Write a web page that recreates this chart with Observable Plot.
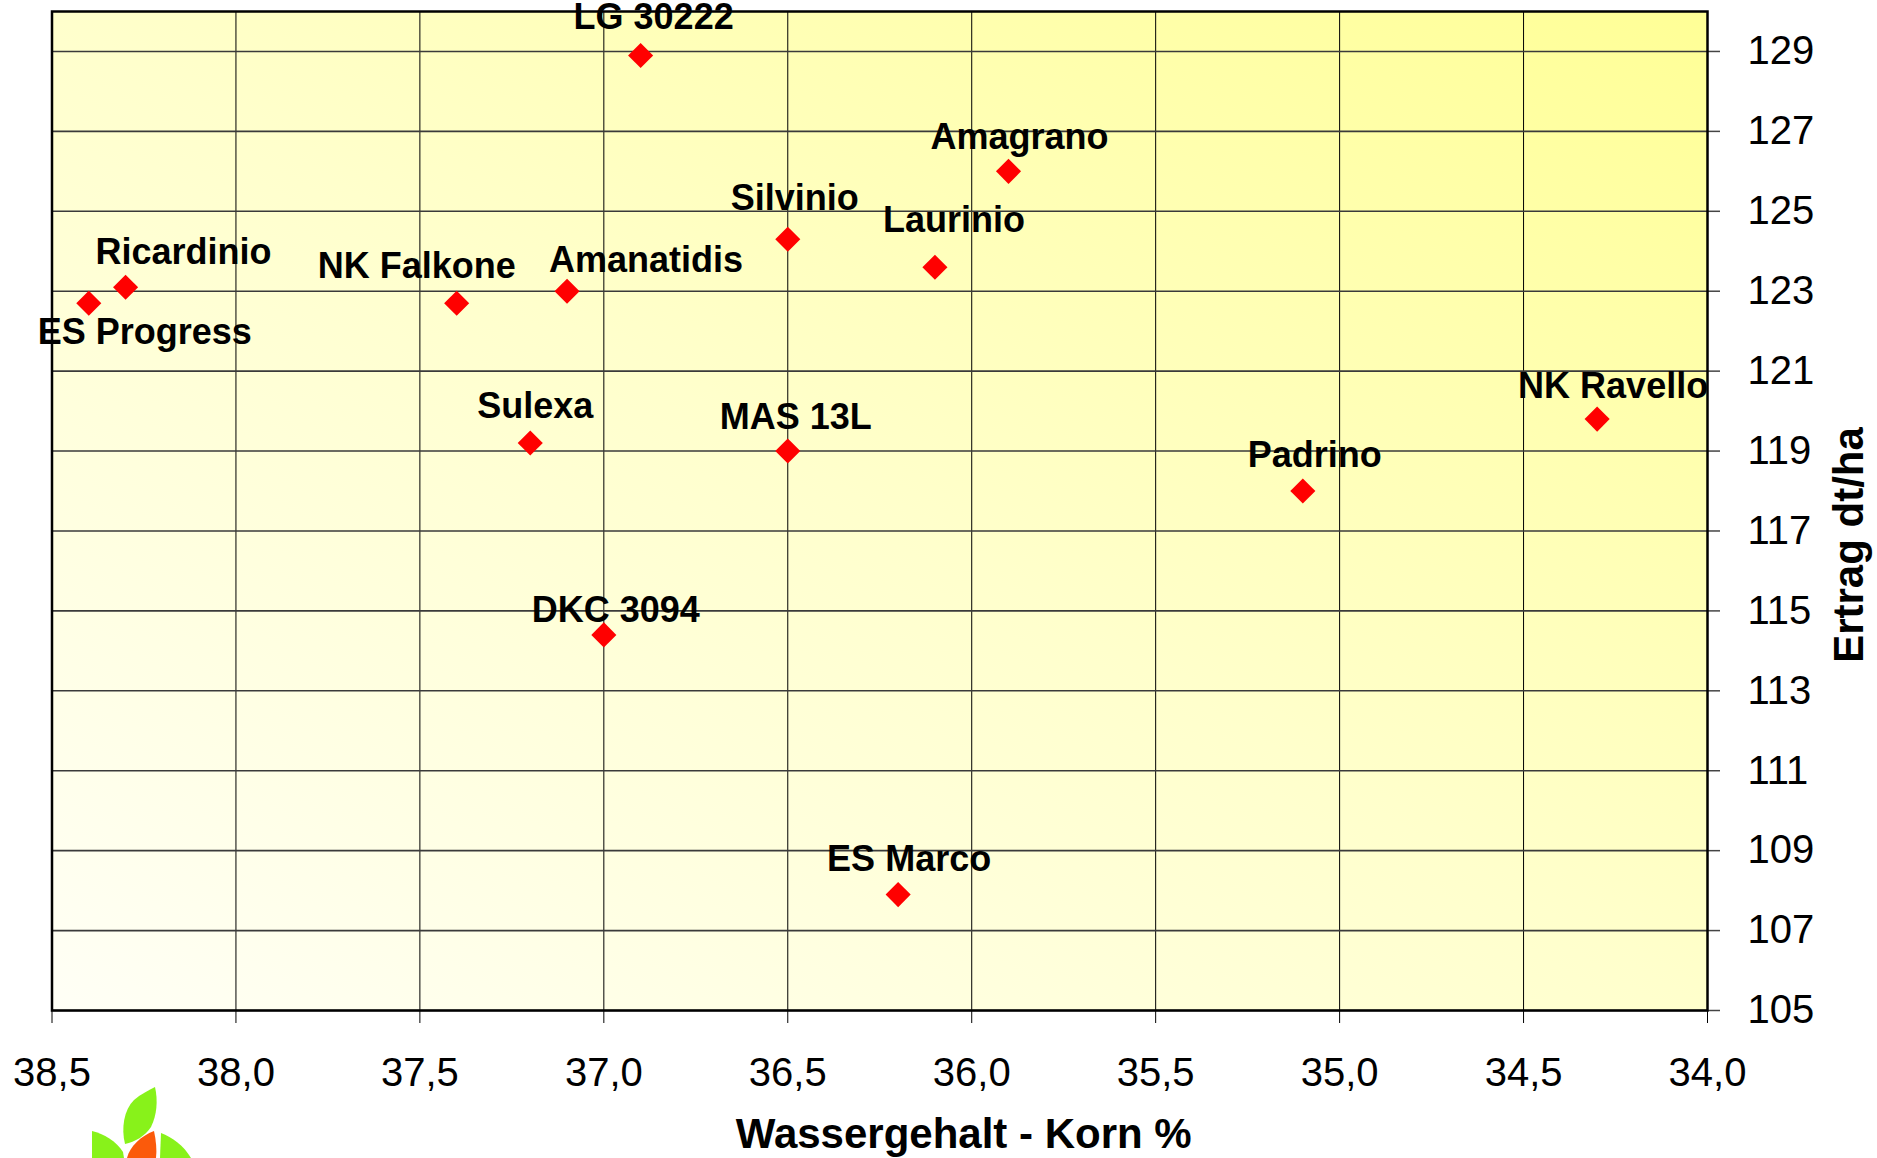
<!DOCTYPE html>
<html>
<head>
<meta charset="utf-8">
<script src="https://cdn.jsdelivr.net/npm/d3@7"></script>
<script src="https://cdn.jsdelivr.net/npm/@observablehq/plot@0.6"></script>
<style>
  html, body { margin: 0; padding: 0; background: #ffffff; }
  #wrap { position: relative; width: 1877px; height: 1158px; overflow: hidden; }
  #logo { position: absolute; left: 0; top: 0; }
</style>
</head>
<body>
<svg width="0" height="0" style="position:absolute">
  <defs>
    <linearGradient id="bggrad" x1="0" y1="1" x2="1" y2="0">
      <stop offset="0%" stop-color="#fffff6"/>
      <stop offset="50%" stop-color="#ffffcc"/>
      <stop offset="100%" stop-color="#ffff96"/>
    </linearGradient>
  </defs>
</svg>
<div id="wrap"></div>
<script>
// ---- data ----
const varieties = ["ES Progress", "Ricardinio", "NK Falkone", "Amanatidis", "LG 30222", "Silvinio", "Laurinio", "Amagrano", "Sulexa", "MAS 13L", "DKC 3094", "ES Marco", "Padrino", "NK Ravello"];
const moisture  = [38.4, 38.3, 37.4, 37.1, 36.9, 36.5, 36.1, 35.9, 37.2, 36.5, 37.0, 36.2, 35.1, 34.3];
const yieldDtHa = [122.7, 123.1, 122.7, 123.0, 128.9, 124.3, 123.6, 126.0, 119.2, 119.0, 114.4, 107.9, 118.0, 119.8];
const xTicks = [38.5, 38.0, 37.5, 37.0, 36.5, 36.0, 35.5, 35.0, 34.5, 34.0];
const yTicks = [105, 107, 109, 111, 113, 115, 117, 119, 121, 123, 125, 127, 129];
const xTitle = "Wassergehalt - Korn %";
const yTitle = "Ertrag dt/ha";

// ---- layout (label offsets in pixels, not data) ----
const labelOffset = {
  "ES Progress": [56, 29], "Ricardinio": [58, -35], "NK Falkone": [-40, -37],
  "Amanatidis": [79, -31], "LG 30222": [13, -38], "Silvinio": [7, -41],
  "Laurinio": [19, -47], "Amagrano": [11, -34], "Sulexa": [5, -37],
  "MAS 13L": [8, -34], "DKC 3094": [12, -24], "ES Marco": [11, -35],
  "Padrino": [12, -36], "NK Ravello": [16, -33]
};

const rows = varieties.map((name, i) => ({name, x: moisture[i], y: yieldDtHa[i]}));
const fmt = d => d3.format(".1f")(d).replace(".", ",");
const font = "'Liberation Sans', Arial, Helvetica, sans-serif";

const labelMarks = rows.map(r => Plot.text([r], {
  x: "x", y: "y", text: "name",
  dx: labelOffset[r.name][0], dy: labelOffset[r.name][1],
  fontSize: 36, fontWeight: "bold", fill: "black", textAnchor: "middle", lineAnchor: "middle"
}));

const chart = Plot.plot({
  width: 1877,
  height: 1158,
  marginLeft: 51.5,
  marginTop: 11,
  marginRight: 170,
  marginBottom: 148,
  style: {fontFamily: font, fontSize: "40px", background: "white", overflow: "visible", color: "black"},
  x: {domain: [34, 38.5], reverse: true},
  y: {domain: [105, 130]},
  marks: [
    Plot.frame({fill: "url(#bggrad)", stroke: "none"}),
    Plot.gridX(xTicks, {stroke: "black", strokeOpacity: 1, strokeWidth: 1}),
    Plot.gridY(yTicks, {stroke: "#3a3a3a", strokeOpacity: 1, strokeWidth: 1.6}),
    Plot.axisX(xTicks, {anchor: "bottom", tickSize: 13, tickPadding: 34, tickFormat: fmt, fontSize: 40, stroke: "black", strokeWidth: 1, label: null}),
    Plot.axisY(yTicks, {anchor: "right", tickSize: 12, tickPadding: 28, fontSize: 40, stroke: "#444", strokeWidth: 1.5, label: null}),
    Plot.frame({stroke: "black", strokeWidth: 2.5}),
    Plot.dot(rows, {x: "x", y: "y", symbol: "diamond2", r: 11.3, fill: "#ff0000", stroke: "none"}),
    ...labelMarks,
    Plot.text([xTitle], {frameAnchor: "bottom", text: d => d, dx: 84, dy: 124, fontSize: 42, fontWeight: "bold", fill: "black", textAnchor: "middle", lineAnchor: "middle"}),
    Plot.text([yTitle], {frameAnchor: "right", text: d => d, dx: 142, dy: 34, rotate: -90, fontSize: 42, fontWeight: "bold", fill: "black", textAnchor: "middle", lineAnchor: "middle"})
  ]
});

const wrap = document.getElementById("wrap");
wrap.appendChild(chart);

// decorative logo fragment at the lower left (not data)
wrap.insertAdjacentHTML("beforeend", `
<svg id="logo" width="1877" height="1158" viewBox="0 0 1877 1158">
  <path d="M125,1144 C121,1128 124,1110 134,1100 C141,1094 149,1090 155,1087 C158,1100 157,1115 151,1127 C145,1136 135,1142 125,1144 Z" fill="#88f21a"/>
  <path d="M127,1158 C130,1146 141,1136 154,1131 C156,1140 157,1150 156,1158 Z" fill="#fb5a0b"/>
  <path d="M92,1131 C104,1134 116,1141 123,1152 L124,1158 L92,1158 Z" fill="#88f21a"/>
  <path d="M161,1133 C172,1137 184,1146 191,1158 L160,1158 Z" fill="#88f21a"/>
</svg>`);
</script>
</body>
</html>
